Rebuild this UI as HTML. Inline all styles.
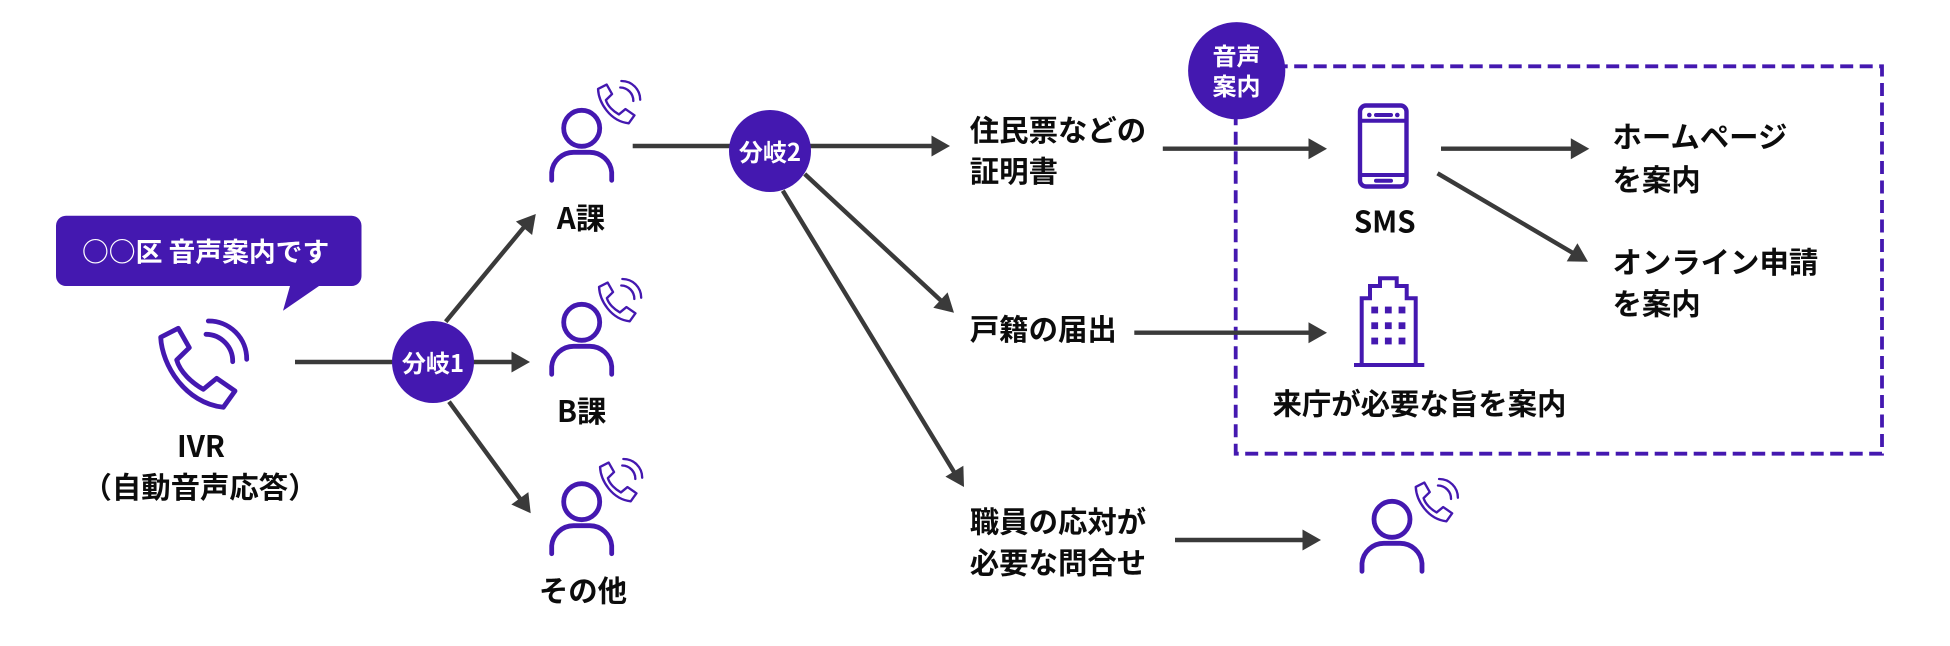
<!DOCTYPE html>
<html lang="ja"><head><meta charset="utf-8"><title>IVR</title>
<style>
html,body{margin:0;padding:0;background:#fff;width:1950px;height:646px;overflow:hidden}
svg{display:block}
text{font-family:"Noto Sans CJK JP","Liberation Sans",sans-serif;font-weight:700;font-size:29.4px;fill:#0c0c0c;dominant-baseline:central}
.w{fill:#fff;font-size:24px;text-anchor:middle}
.c{text-anchor:middle}
.a{stroke:#3a3a3a;stroke-width:4.4;fill:none}
.h{fill:#3a3a3a}
.p{fill:none;stroke:#4418b0;stroke-width:4.8;stroke-linecap:round;stroke-linejoin:round}
.f{fill:#4418b0}
</style></head><body>
<svg width="1950" height="646" viewBox="0 0 1950 646" xmlns="http://www.w3.org/2000/svg">
<defs>
<g id="ph"><path d="M160.7 337.3L178.3 328.3L189.3 347.7L176.7 360C180 372 192 383 203.3 389.3L216.7 378.3L235 391L223.3 407.3C185 403 162 365 160.7 337.3Z"/><path d="M208.3 321A38 38 0 0 1 246.7 359.3M206 334.3A27 27 0 0 1 232.7 361.7"/></g>
<g id="pr"><circle cx="0" cy="0" r="18"/><path d="M-30 52V44A22 22 0 0 1 -8 24H8A22 22 0 0 1 30 44V52"/></g>
<path id="ah" d="M-18.5 -10.5L0 0L-18.5 10.5Z"/>
</defs>

<!-- dashed frame -->
<rect x="1235.7" y="66.3" width="646.3" height="387.4" fill="none" stroke="#4418b0" stroke-width="3.8" stroke-dasharray="13 6.5"/>

<!-- speech bubble -->
<path class="f" d="M66 215.7H351.5A10 10 0 0 1 361.5 225.7V276A10 10 0 0 1 351.5 286H319L283 310.7L290 286H66A10 10 0 0 1 56 276V225.7A10 10 0 0 1 66 215.7Z"/>
<text x="82" y="250" style="font-size:26.8px;fill:#fff">○○区 音声案内です</text>

<!-- IVR phone -->
<use href="#ph" class="p"/>
<text class="c" x="201" y="445">IVR</text>
<text class="c" x="200" y="486">（自動音声応答）</text>

<!-- arrows -->
<path class="a" d="M295 362H514"/><use href="#ah" class="h" transform="translate(530 362)"/>
<path class="a" d="M445.7 321.7L525.2 225.6"/><use href="#ah" class="h" transform="translate(535.8 214) rotate(-50.4)"/>
<path class="a" d="M449 401.7L521.9 501.2"/><use href="#ah" class="h" transform="translate(530.7 513.3) rotate(54.1)"/>
<path class="a" d="M632.7 146H935"/><use href="#ah" class="h" transform="translate(950 146)"/>
<path class="a" d="M804.7 174L943 302.5"/><use href="#ah" class="h" transform="translate(954 312.7) rotate(42.9)"/>
<path class="a" d="M782.8 190.7L955.2 473.9"/><use href="#ah" class="h" transform="translate(964 487) rotate(58.7)"/>
<path class="a" d="M1162.8 148.7H1312"/><use href="#ah" class="h" transform="translate(1327 148.7)"/>
<path class="a" d="M1134.3 332.7H1312"/><use href="#ah" class="h" transform="translate(1327 332.7)"/>
<path class="a" d="M1441 148.7H1574"/><use href="#ah" class="h" transform="translate(1589.3 148.7)"/>
<path class="a" d="M1437.5 173.3L1574.9 254.1"/><use href="#ah" class="h" transform="translate(1588 261.7) rotate(30.6)"/>
<path class="a" d="M1175 540H1306"/><use href="#ah" class="h" transform="translate(1321 540)"/>

<!-- branch circles -->
<circle class="f" cx="433" cy="362" r="41"/>
<text class="w" x="433" y="361.5">分岐1</text>
<circle class="f" cx="770" cy="151" r="41"/>
<text class="w" x="770" y="150.5">分岐2</text>
<circle class="f" cx="1236.7" cy="70.7" r="48.6"/>
<text class="w" x="1236.5" y="54.5">音声</text>
<text class="w" x="1236.5" y="84.5">案内</text>

<!-- persons -->
<use href="#pr" class="p" transform="translate(581.7 128.3)"/>
<use href="#ph" class="p" transform="translate(519.3 -76.3) scale(.49)"/>
<text class="c" x="581" y="217">A課</text>

<use href="#pr" class="p" transform="translate(581.7 322.3)"/>
<use href="#ph" class="p" transform="translate(520.3 121.7) scale(.49)"/>
<text class="c" x="581.7" y="410">B課</text>

<use href="#pr" class="p" transform="translate(581.7 501.7)"/>
<use href="#ph" class="p" transform="translate(521.3 301.7) scale(.49)"/>
<text class="c" x="583" y="589.5">その他</text>

<use href="#pr" class="p" transform="translate(1392 519.3)"/>
<use href="#ph" class="p" transform="translate(1337 321.7) scale(.49)"/>

<!-- middle labels -->
<text x="969.8" y="129">住民票などの</text>
<text x="969.8" y="170">証明書</text>
<text x="969.8" y="328">戸籍の届出</text>
<text x="969.8" y="520.5">職員の応対が</text>
<text x="969.8" y="561.5">必要な問合せ</text>

<!-- smartphone -->
<rect x="1360" y="105.5" width="46.5" height="81" rx="6" fill="none" stroke="#4418b0" stroke-width="4.4"/>
<path d="M1360 120.7H1406.5M1360 175H1406.5" stroke="#4418b0" stroke-width="4" fill="none"/>
<circle class="f" cx="1369.3" cy="115" r="2.3"/><circle class="f" cx="1397.3" cy="115" r="2.3"/>
<path d="M1376 115H1391M1376 180.7H1391" stroke="#4418b0" stroke-width="4" stroke-linecap="round" fill="none"/>
<text class="c" x="1384.7" y="220.5">SMS</text>

<!-- building -->
<path d="M1361.7 365V298.3H1370V286H1380V278.3H1396.7V286H1406.7V298.3H1415.7V365" fill="none" stroke="#4418b0" stroke-width="4"/>
<path d="M1354 365H1424.3" stroke="#4418b0" stroke-width="4" fill="none"/>
<g class="f">
<rect x="1371.3" y="306.6" width="6.8" height="6.8"/><rect x="1384.9" y="306.6" width="6.8" height="6.8"/><rect x="1398.6" y="306.6" width="6.8" height="6.8"/>
<rect x="1371.3" y="322.3" width="6.8" height="6.8"/><rect x="1384.9" y="322.3" width="6.8" height="6.8"/><rect x="1398.6" y="322.3" width="6.8" height="6.8"/>
<rect x="1371.3" y="337.6" width="6.8" height="6.8"/><rect x="1384.9" y="337.6" width="6.8" height="6.8"/><rect x="1398.6" y="337.6" width="6.8" height="6.8"/>
</g>
<text x="1272.5" y="402.5">来庁が必要な旨を案内</text>

<!-- right labels -->
<text x="1612.5" y="135.5">ホームページ</text>
<text x="1612.5" y="178.5">を案内</text>
<text x="1612.5" y="261">オンライン申請</text>
<text x="1612.5" y="302.5">を案内</text>
</svg>
</body></html>
